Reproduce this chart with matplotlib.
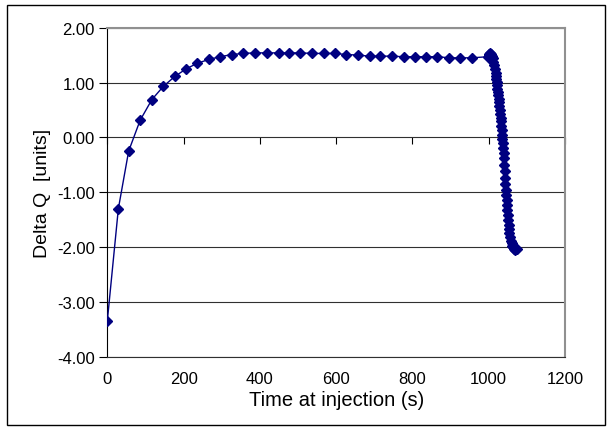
import matplotlib
matplotlib.use('Agg')
import matplotlib.pyplot as plt
from matplotlib.patches import Rectangle
from matplotlib.ticker import FormatStrFormatter, MultipleLocator

# slow rise and plateau, one reading about every 30 s
rise_t = [0, 29, 56, 86, 117, 147, 177, 207, 236, 266, 296, 327, 357, 388,
          419, 449, 477, 506, 537, 567, 596, 627, 656, 688, 716, 746, 777,
          806, 835, 865, 897, 926, 956]
rise_q = [-3.35, -1.30, -0.25, 0.31, 0.69, 0.93, 1.11, 1.25, 1.35, 1.42,
          1.47, 1.51, 1.53, 1.54, 1.54, 1.54, 1.54, 1.54, 1.53, 1.53, 1.53,
          1.51, 1.50, 1.48, 1.48, 1.48, 1.47, 1.47, 1.47, 1.47, 1.45, 1.45,
          1.45]

# fast readings after the second injection
drop_t = [998, 1000, 1002, 1004, 1006, 1008, 1010, 1012, 1014, 1016, 1018,
          1019, 1020, 1021, 1022, 1023, 1024, 1025, 1026, 1027, 1028, 1029,
          1030, 1031, 1032, 1033, 1034, 1035, 1036, 1037, 1038, 1039, 1040,
          1041, 1042, 1043, 1044, 1045, 1046, 1047, 1048, 1049, 1050, 1051,
          1052, 1053, 1054, 1056, 1058, 1060, 1062, 1064, 1067, 1070, 1073]
drop_q = [1.47, 1.50, 1.52, 1.54, 1.52, 1.49, 1.44, 1.38, 1.32, 1.25, 1.18,
          1.12, 1.07, 1.01, 0.95, 0.89, 0.83, 0.77, 0.70, 0.64, 0.57, 0.50,
          0.43, 0.36, 0.29, 0.21, 0.13, 0.05, -0.03, -0.11, -0.19, -0.28,
          -0.37, -0.50, -0.62, -0.74, -0.85, -0.95, -1.05, -1.14, -1.23,
          -1.32, -1.41, -1.50, -1.59, -1.67, -1.74, -1.81, -1.88, -1.93,
          -1.97, -2.00, -2.03, -2.05, -2.04]

x_label = 'Time at injection (s)'
y_label = 'Delta Q  [units]'

NAVY = '#000080'

plt.rcParams['font.family'] = ['Liberation Sans', 'DejaVu Sans']
plt.rcParams['axes.unicode_minus'] = False

fig = plt.figure(figsize=(6.12, 4.31), dpi=100)
ax = fig.add_axes([0.1753, 0.1694, 0.7479, 0.7642])

# outer chart frame
fig.patches.append(Rectangle((0.011, 0.012), 0.978, 0.974,
                             transform=fig.transFigure, fill=False,
                             edgecolor='black', linewidth=1.0))

ax.plot(rise_t + drop_t, rise_q + drop_q, '-', color=NAVY, lw=1.0,
        marker='D', ms=4.6, mfc=NAVY, mec=NAVY, zorder=3)

ax.set_xlim(0, 1200)
ax.set_ylim(-4, 2)
ax.xaxis.set_major_locator(MultipleLocator(200))
ax.yaxis.set_major_locator(MultipleLocator(1))
ax.yaxis.set_major_formatter(FormatStrFormatter('%.2f'))

ax.grid(axis='y', color='#303030', lw=0.8)
ax.set_axisbelow(True)

ax.spines['left'].set_color('black')
ax.spines['bottom'].set_color('#303030')
for side in ('top', 'right'):
    ax.spines[side].set_color('#909090')
    ax.spines[side].set_linewidth(1.5)

ax.tick_params(axis='y', direction='out', length=6, width=0.8,
               labelsize=12, pad=3)
ax.tick_params(axis='x', length=0, labelsize=12, pad=10)

# x axis line crosses at zero with ticks hanging below it
zero_pos = (0 - ax.get_ylim()[0]) / (ax.get_ylim()[1] - ax.get_ylim()[0])
sec = ax.secondary_xaxis(zero_pos)
sec.xaxis.set_major_locator(MultipleLocator(200))
sec.tick_params(direction='out', length=5, width=0.8, labelbottom=False,
                labeltop=False)
sec.spines['bottom'].set_color('black')
sec.spines['bottom'].set_linewidth(1.0)
sec.spines['top'].set_visible(False)
sec.xaxis.set_ticks_position('bottom')
sec.set_xticklabels([])

ax.set_xlabel(x_label, fontsize=14.5, labelpad=3)
ax.set_ylabel(y_label, fontsize=14, labelpad=4)

fig.savefig('out.png', dpi=100)
